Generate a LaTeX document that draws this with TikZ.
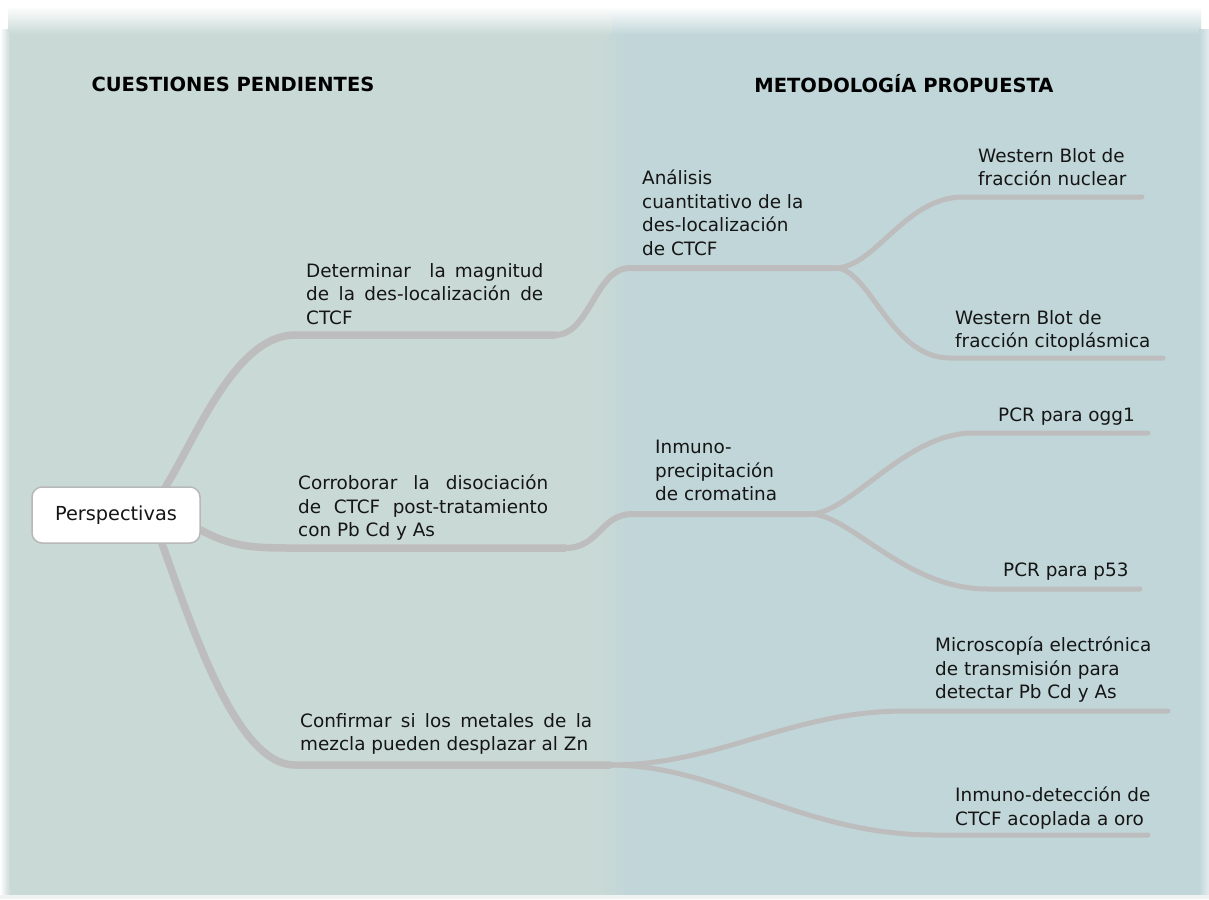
\documentclass[tikz,border=0pt]{standalone}
\usepackage{fontspec}
\setmainfont{DejaVu Sans}
\definecolor{leftbg}{HTML}{C9D9D5}
\definecolor{rightbg}{HTML}{C1D6D9}
\definecolor{branch}{HTML}{BDBDBD}
\definecolor{txt}{HTML}{151515}
\definecolor{rootedge}{HTML}{B8B8B8}
\pgfdeclarelayer{back}
\pgfdeclarelayer{lines}
\pgfsetlayers{back,lines,main}
\tikzset{
  lvl1/.style={draw=branch, line width=7.5pt, line cap=round},
  lvl2/.style={draw=branch, line width=6pt, line cap=round},
  lvl3/.style={draw=branch, line width=5pt, line cap=round},
  lbl/.style={anchor=north west, inner sep=0pt, align=left, text=txt,
    font=\fontsize{18.4}{23.5}\selectfont},
  hdr/.style={inner sep=0pt, text=black, font=\bfseries\fontsize{19.5}{22}\selectfont},
  rootbox/.style={draw=rootedge, fill=white, rounded corners=10pt, line width=1.5pt,
    minimum width=168pt, minimum height=56pt, text=txt,
    font=\fontsize{19.3}{22}\selectfont}
}
\begin{document}
\begin{tikzpicture}[x=1pt, y=-1pt]
\useasboundingbox (0,0) rectangle (1209,899);
% background
\begin{pgfonlayer}{back}
\fill[white] (0,0) rectangle (1209,899);
\fill[leftbg] (8,34) rectangle (612,895);
\fill[rightbg] (612,34) rectangle (1201,895);
\shade[left color=leftbg, right color=rightbg] (600,34) rectangle (628,895);
\shade[top color=white, bottom color=leftbg] (8,6) rectangle (612,35);
\shade[top color=white, bottom color=rightbg] (612,6) rectangle (1201,35);
\shade[left color=white, right color=leftbg] (0,30) rectangle (10,895);
\shade[left color=rightbg, right color=white!55!rightbg] (1199,30) rectangle (1209,895);
\fill[white!70!leftbg] (0,895) rectangle (1209,899);
\end{pgfonlayer}

% headers
\node[hdr] (h1) at (233,84) {CUESTIONES PENDIENTES};
\node[hdr] (h2) at (904,84) {METODOLOGÍA PROPUESTA};

% root
\node[rootbox] (P) at (116,515) {Perspectivas};

% level 1 labels
\node[lbl] (q1) at (306,263) {\makebox[237pt][s]{Determinar\ \ la magnitud}\\
  \makebox[237pt][s]{de la des-localización de}\\ CTCF};
\node[lbl] (q2) at (298,475) {\makebox[250pt][s]{Corroborar la disociación}\\
  \makebox[250pt][s]{de CTCF post-tratamiento}\\ con Pb Cd y As};
\node[lbl] (q3) at (300,713) {\makebox[292pt][s]{Confirmar si los metales de la}\\
  mezcla pueden desplazar al Zn};

% level 2 labels
\node[lbl] (m1) at (642,170) {Análisis\\ cuantitativo de la\\ des-localización\\ de CTCF};
\node[lbl] (m2) at (655,440) {Inmuno-\\ precipitación\\ de cromatina};

% level 3 labels
\node[lbl] (w1) at (978,148) {Western Blot de\\ fracción nuclear};
\node[lbl] (w2) at (955,310) {Western Blot de\\ fracción citoplásmica};
\node[lbl] (r1) at (998,408) {PCR para ogg1};
\node[lbl] (r2) at (1003,563) {PCR para p53};
\node[lbl] (e1) at (935,637) {Microscopía electrónica\\ de transmisión para\\ detectar Pb Cd y As};
\node[lbl] (e2) at (955,787) {Inmuno-detección de\\ CTCF acoplada a oro};

% coordinates of the underline paths
\coordinate (q1a) at (295,335); \coordinate (q1b) at (555,335);
\coordinate (m1a) at (630,268); \coordinate (m1b) at (835,268);
\coordinate (q2a) at (290,548); \coordinate (q2b) at (565,548);
\coordinate (m2a) at (633,514); \coordinate (m2b) at (810,514);
\coordinate (q3a) at (295,765); \coordinate (q3b) at (610,765);
\coordinate (w1a) at (963,197); \coordinate (w1b) at (1142,197);
\coordinate (w2a) at (950,358); \coordinate (w2b) at (1163,358);
\coordinate (r1a) at (973,433); \coordinate (r1b) at (1148,433);
\coordinate (r2a) at (987,589); \coordinate (r2b) at (1140,589);
\coordinate (e1a) at (905,711); \coordinate (e1b) at (1168,711);
\coordinate (e2a) at (935,835); \coordinate (e2b) at (1148,835);

\begin{pgfonlayer}{lines}
% level 1 branches
\draw[lvl1] (P.30) .. controls (195,440) and (235,335) .. (q1a) -- (q1b);
\draw[lvl1] (P.-10) .. controls (230,546) and (250,548) .. (q2a) -- (q2b);
\draw[lvl1] (P.-32) .. controls (190,620) and (235,765) .. (q3a) -- (q3b);
% level 2 branches
\draw[lvl2] (q1b) .. controls (590,335) and (595,268) .. (m1a) -- (m1b);
\draw[lvl2] (q2b) .. controls (600,548) and (600,514) .. (m2a) -- (m2b);
% level 3 branches
\draw[lvl3] (m1b) .. controls (875,268) and (905,197) .. (w1a) -- (w1b);
\draw[lvl3] (m1b) .. controls (870,268) and (890,358) .. (w2a) -- (w2b);
\draw[lvl3] (m2b) .. controls (850,514) and (905,433) .. (r1a) -- (r1b);
\draw[lvl3] (m2b) .. controls (850,514) and (905,589) .. (r2a) -- (r2b);
\draw[lvl3] (q3b) .. controls (720,765) and (790,711) .. (e1a) -- (e1b);
\draw[lvl3] (q3b) .. controls (720,765) and (800,835) .. (e2a) -- (e2b);
\end{pgfonlayer}
\end{tikzpicture}
\end{document}
